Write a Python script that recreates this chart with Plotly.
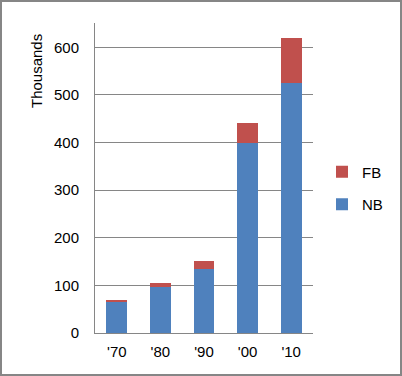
import plotly.graph_objects as go

categories = ["'70", "'80", "'90", "'00", "'10"]
nb_values = [66, 96, 135, 399, 524]
fb_values = [4, 10, 17, 42, 96]
y_ticks = [0, 100, 200, 300, 400, 500, 600]

BLUE = "#4F81BD"
RED = "#C0504D"
GRAY = "#868686"
FONT = "Liberation Sans, Arial, sans-serif"

fig = go.Figure()
fig.add_trace(go.Bar(name="NB", x=categories, y=nb_values, marker=dict(color=BLUE, line=dict(width=0)),
                     legendgroup="nb", legendrank=2))
fig.add_trace(go.Bar(name="FB", x=categories, y=fb_values, marker=dict(color=RED, line=dict(width=0)),
                     legendgroup="fb", legendrank=1))

W, H = 402, 376
ml, mr, mt, mb = 95, 89, 23, 43
pw, ph = W - ml - mr, H - mt - mb

def px_to_paper_x(px):
    return (px - ml) / pw

def px_to_paper_y(py):
    return (H - mb - py) / ph

fig.update_layout(
    width=W, height=H, autosize=False,
    margin=dict(l=ml, r=mr, t=mt, b=mb, pad=0, autoexpand=False),
    barmode="stack",
    bargap=0.52,
    paper_bgcolor="white",
    plot_bgcolor="white",
    font=dict(family=FONT, size=15, color="#000000"),
    showlegend=True,
    legend=dict(
        traceorder="grouped",
        tracegroupgap=10,
        x=px_to_paper_x(322), xanchor="left",
        y=px_to_paper_y(188), yanchor="middle",
        font=dict(size=15),
        itemwidth=30,
        bgcolor="rgba(0,0,0,0)",
    ),
    xaxis=dict(
        showline=True, linecolor=GRAY, linewidth=1,
        showgrid=False, ticks="", ticklabelstandoff=5,
        tickfont=dict(size=15),
    ),
    yaxis=dict(
        range=[0, 651],
        tickvals=y_ticks,
        showline=True, linecolor=GRAY, linewidth=1,
        showgrid=True, gridcolor=GRAY, gridwidth=1,
        zeroline=False,
        ticks="", ticklabelstandoff=12,
        tickfont=dict(size=15),
    ),
    shapes=[dict(
        type="rect", xref="paper", yref="paper",
        x0=px_to_paper_x(1), x1=px_to_paper_x(401),
        y0=px_to_paper_y(375), y1=px_to_paper_y(1),
        line=dict(color=GRAY, width=2), fillcolor="rgba(0,0,0,0)", layer="above",
    )],
    annotations=[dict(
        text="Thousands", textangle=-90,
        xref="paper", yref="paper",
        x=px_to_paper_x(37), y=px_to_paper_y(71),
        xanchor="center", yanchor="middle", showarrow=False,
        font=dict(size=15),
    )],
)

fig.write_html(
    "out.html",
    config={"responsive": False, "displayModeBar": False},
    post_script="document.body.style.margin='0';document.body.style.padding='0';document.body.style.overflow='hidden';",
)
